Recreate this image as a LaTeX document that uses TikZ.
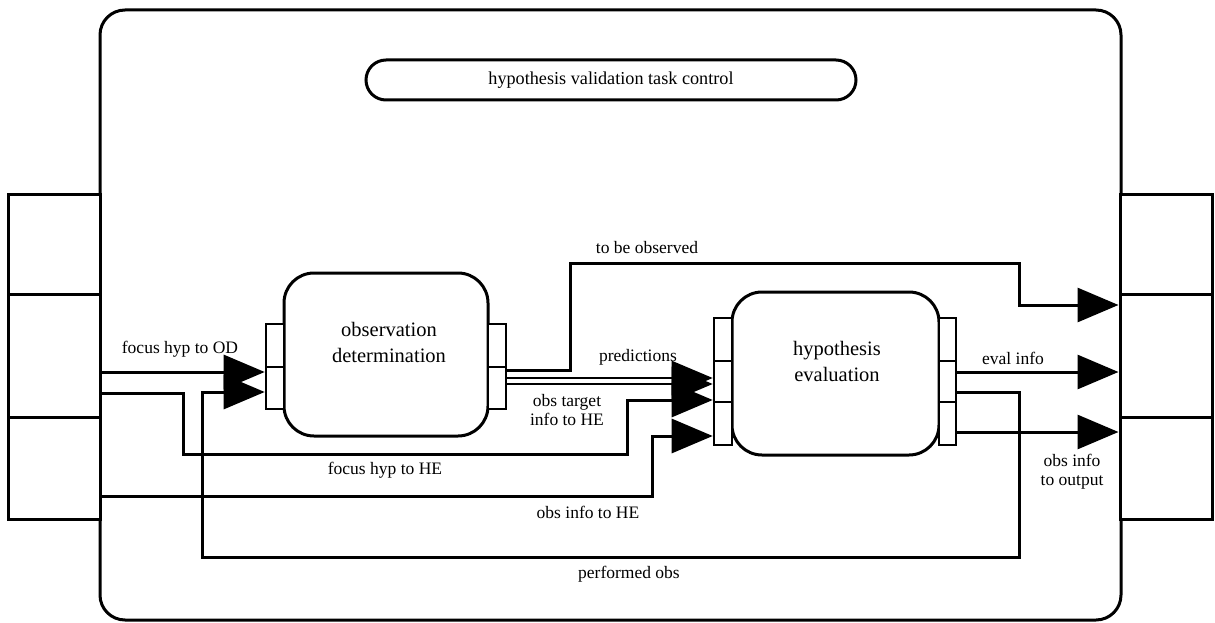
\documentclass[tikz,border=0pt]{standalone}
\usepackage{fontspec}
\setmainfont{Liberation Serif}
\usetikzlibrary{arrows.meta}
\begin{document}
\begin{tikzpicture}[x=1pt,y=-1pt,
  line width=3pt,
  cell/.style={draw, fill=white, inner sep=0pt, minimum width=92pt},
  strip/.style={draw, fill=white, inner sep=0pt, line width=2.6pt},
  proc/.style={draw, fill=white, rounded corners=30pt, inner sep=0pt},
  proctext/.style={font=\rmfamily\fontsize{20.5}{26}\selectfont, align=center, inner sep=0pt},
  flow/.style={line width=3pt, -{Triangle[length=41pt,width=34pt]}},
  lbl/.style={font=\rmfamily\fontsize{17.5}{19}\selectfont, inner sep=0pt, align=center}
]
\useasboundingbox (0,0) rectangle (1215,623);

% task frame
\node[draw, rounded corners=25pt, minimum width=1021pt, minimum height=610pt, inner sep=0pt] (task) at (610.5,315) {};

% control
\node[draw, fill=white, rounded corners=20pt, minimum width=490pt, minimum height=40pt, lbl, font=\rmfamily\fontsize{18.2}{20}\selectfont] (ctrl) at (611,80) {hypothesis validation task control};

% input and output port stacks
\node[cell, minimum height=100pt] (inA) at (54,244) {};
\node[cell, minimum height=123pt] (inB) at (54,355.5) {};
\node[cell, minimum height=102pt] (inC) at (54,468) {};
\node[cell, minimum height=100pt] (outA) at (1166,244) {};
\node[cell, minimum height=123pt] (outB) at (1166,355.5) {};
\node[cell, minimum height=102pt] (outC) at (1166,468) {};

% observation determination
\node[proc, minimum width=204pt, minimum height=163pt] (od) at (386,354.5) {};
\node[proctext] (odtext) at (389,342) {observation\\determination};
\node[strip, minimum width=18pt, minimum height=43pt] (odL1) at (275,345.5) {};
\node[strip, minimum width=18pt, minimum height=42pt] (odL2) at (275,388) {};
\node[strip, minimum width=18pt, minimum height=43pt] (odR1) at (497,345.5) {};
\node[strip, minimum width=18pt, minimum height=42pt] (odR2) at (497,388) {};

% hypothesis evaluation
\node[proc, minimum width=207pt, minimum height=163pt] (he) at (835.5,373.5) {};
\node[proctext] (hetext) at (837,361) {hypothesis\\evaluation};
\node[strip, minimum width=18pt, minimum height=43pt] (heL1) at (723,339.5) {};
\node[strip, minimum width=18pt, minimum height=41pt] (heL2) at (723,381.5) {};
\node[strip, minimum width=18pt, minimum height=43pt] (heL3) at (723,423.5) {};
\node[strip, minimum width=17pt, minimum height=43pt] (heR1) at (947.5,339.5) {};
\node[strip, minimum width=17pt, minimum height=41pt] (heR2) at (947.5,381.5) {};
\node[strip, minimum width=17pt, minimum height=43pt] (heR3) at (947.5,423.5) {};

% flows
\draw[flow] (inB.east |- 0,372) -- (odL2.west |- 0,372);
\draw[flow] (heR2.east |- 0,392) -| (1019,557) -| (202,392) -- (odL2.west |- 0,392);
\draw[flow] (inB.east |- 0,393) -| (183,454) -| (627,400) -- (heL2.west |- 0,400);
\draw[flow] (inC.east |- 0,496) -| (652,436) -- (heL3.west |- 0,436);
\draw[flow] (odR2.east |- 0,370) -| (570,263) -| (1019,305) -- (outB.west |- 0,305);
\draw[flow, line width=2.4pt] (odR2.east |- 0,378) -- (heL2.west |- 0,378);
\draw[flow, line width=2.4pt] (odR2.east |- 0,384) -- (heL2.west |- 0,384);
\draw[flow] (heR2.east |- 0,372) -- (outB.west |- 0,372);
\draw[flow] (heR3.east |- 0,432) -- (outC.west |- 0,432);

% flow labels
\node[lbl] (l1) at (180,349) {focus hyp to OD};
\node[lbl] (l2) at (647,248) {to be observed};
\node[lbl] (l3) at (638,357) {predictions};
\node[lbl] (l4) at (567,410) {obs target\\info to HE};
\node[lbl] (l5) at (385,470) {focus hyp to HE};
\node[lbl] (l6) at (588,512) {obs info to HE};
\node[lbl] (l7) at (629,574) {performed obs};
\node[lbl] (l8) at (1013,358) {eval info};
\node[lbl] (l9) at (1072,472) {obs info\\to output};
\end{tikzpicture}
\end{document}
